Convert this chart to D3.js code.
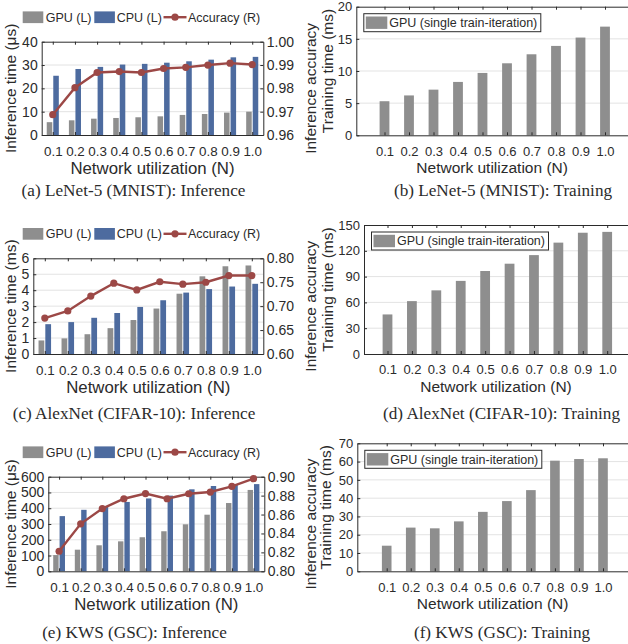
<!DOCTYPE html>
<html>
<head>
<meta charset="utf-8">
<script src="https://cdn.jsdelivr.net/npm/d3@7"></script>
<style>
  body { margin: 0; background: #fff; }
  svg { display: block; }
</style>
</head>
<body>
<svg id="fig" width="628" height="644"></svg>
<script>
// Network utilization levels shared by every panel
const categories = ["0.1", "0.2", "0.3", "0.4", "0.5", "0.6", "0.7", "0.8", "0.9", "1.0"];

// LeNet-5 (MNIST)
const lenetGpuInfer = [5.5, 6.3, 7.0, 7.3, 7.6, 8.0, 8.6, 9.0, 9.6, 10.0];      // µs
const lenetCpuInfer = [25.4, 28.3, 29.2, 30.2, 30.5, 31.0, 31.6, 32.3, 33.3, 33.5]; // µs
const lenetAccuracy = [0.9687, 0.9803, 0.9868, 0.9872, 0.9868, 0.9885, 0.9890, 0.9900, 0.9908, 0.9902];
const lenetTrain = [5.3, 6.2, 7.1, 8.3, 9.7, 11.2, 12.6, 13.9, 15.2, 16.9];       // ms

// AlexNet (CIFAR-10)
const alexGpuInfer = [0.85, 0.98, 1.24, 1.62, 2.13, 2.85, 3.78, 4.87, 5.50, 5.55]; // ms
const alexCpuInfer = [1.87, 2.00, 2.27, 2.57, 2.95, 3.37, 3.85, 4.07, 4.23, 4.40]; // ms
const alexAccuracy = [0.675, 0.690, 0.721, 0.748, 0.734, 0.751, 0.746, 0.750, 0.764, 0.764];
const alexTrain = [46, 61.5, 74, 85, 96.5, 105, 115, 129.5, 141, 142];              // ms

// KWS (GSC)
const kwsGpuInfer = [103, 137, 165, 190, 216, 254, 298, 359, 433, 516];  // µs
const kwsCpuInfer = [350, 390, 410, 440, 462, 480, 520, 541, 548, 553];  // µs
const kwsAccuracy = [0.8212, 0.8502, 0.8663, 0.8767, 0.8822, 0.8767, 0.8820, 0.8838, 0.8898, 0.8979];
const kwsTrain = [14.0, 23.9, 23.5, 27.3, 32.5, 38.4, 44.4, 60.5, 61.4, 61.8];   // ms

// Axis tick values
const lenetTimeTicks = [0, 10, 20, 30, 40];
const lenetAccTicks = [0.96, 0.97, 0.98, 0.99, 1.00];
const lenetTrainTicks = [0, 5, 10, 15, 20];
const alexTimeTicks = [0, 1, 2, 3, 4, 5, 6];
const alexAccTicks = [0.60, 0.65, 0.70, 0.75, 0.80];
const alexTrainTicks = [0, 30, 60, 90, 120, 150];
const kwsTimeTicks = [0, 100, 200, 300, 400, 500, 600];
const kwsAccTicks = [0.80, 0.82, 0.84, 0.86, 0.88, 0.90];
const kwsTrainTicks = [0, 10, 20, 30, 40, 50, 60, 70];

// Styling
const INK = "#2b2b2b";
const GRID = "#e3e3e3";
const GPU_GRAY = "#8e8e8e";
const CPU_BLUE = "#4d6b9f";
const ACC_RED = "#9c4846";
const SANS = "'Liberation Sans', Arial, Helvetica, sans-serif";
const SERIF = "'Liberation Serif', 'Times New Roman', serif";

const svg = d3.select("#fig");

function styleAxis(sel, fontSize) {
  sel.attr("font-size", null).attr("font-family", null);
  sel.select(".domain").attr("stroke", INK).attr("stroke-width", 1);
  sel.selectAll(".tick line").attr("stroke", INK);
  sel.selectAll(".tick text")
    .attr("fill", INK)
    .style("font-family", SANS)
    .style("font-size", fontSize + "px");
}

function vTitle(g, text, x, y, size) {
  g.append("text")
    .attr("transform", `translate(${x},${y}) rotate(-90)`)
    .attr("text-anchor", "middle")
    .attr("dy", "0.35em")
    .style("font-family", SANS)
    .style("font-size", size + "px")
    .attr("fill", INK)
    .text(text);
}

function hText(g, text, x, y, size, family, anchor) {
  g.append("text")
    .attr("x", x).attr("y", y)
    .attr("dy", "0.35em")
    .attr("text-anchor", anchor || "middle")
    .style("font-family", family || SANS)
    .style("font-size", size + "px")
    .attr("fill", INK)
    .text(text);
}

// Grouped GPU/CPU bars on the left axis, accuracy line on the right axis
function drawInference(p) {
  const g = svg.append("g");
  const x = d3.scalePoint().domain(categories).range([p.L, p.R]).padding(0.5);
  const step = x.step();
  const yT = d3.scaleLinear().domain([p.timeTicks[0], p.timeTicks[p.timeTicks.length - 1]]).range([p.B, p.T]);
  const yA = d3.scaleLinear().domain([p.accTicks[0], p.accTicks[p.accTicks.length - 1]]).range([p.B, p.T]);

  g.append("g").selectAll("line").data(p.timeTicks.slice(1, -1)).join("line")
    .attr("x1", p.L).attr("x2", p.R)
    .attr("y1", d => yT(d)).attr("y2", d => yT(d))
    .attr("stroke", GRID);

  const bw = step * 0.25, gap = step * 0.045;
  g.append("g").selectAll("rect").data(p.gpu).join("rect")
    .attr("x", (d, i) => x(categories[i]) - gap / 2 - bw)
    .attr("width", bw)
    .attr("y", d => yT(d))
    .attr("height", d => yT(0) - yT(d))
    .attr("fill", GPU_GRAY);
  g.append("g").selectAll("rect").data(p.cpu).join("rect")
    .attr("x", (d, i) => x(categories[i]) + gap / 2)
    .attr("width", bw)
    .attr("y", d => yT(d))
    .attr("height", d => yT(0) - yT(d))
    .attr("fill", CPU_BLUE);

  g.append("g").attr("transform", `translate(0,${p.B})`)
    .call(d3.axisBottom(x).tickSizeInner(-3).tickSizeOuter(0).tickPadding(11))
    .call(s => styleAxis(s, 13.4));
  g.append("g").attr("transform", `translate(0,${p.T})`)
    .call(d3.axisTop(x).tickSizeInner(-3).tickSizeOuter(0).tickFormat(() => ""))
    .call(s => styleAxis(s, 14));
  g.append("g").attr("transform", `translate(${p.L},0)`)
    .call(d3.axisLeft(yT).tickValues(p.timeTicks).tickSizeInner(-3).tickSizeOuter(0).tickPadding(4).tickFormat(d3.format("d")))
    .call(s => styleAxis(s, 14));
  g.append("g").attr("transform", `translate(${p.R},0)`)
    .call(d3.axisRight(yA).tickValues(p.accTicks).tickSizeInner(-3).tickSizeOuter(0).tickPadding(3.5).tickFormat(d3.format(".2f")))
    .call(s => styleAxis(s, 14));

  const line = d3.line().x((d, i) => x(categories[i])).y(d => yA(d));
  g.append("path").datum(p.acc)
    .attr("d", line).attr("fill", "none")
    .attr("stroke", ACC_RED).attr("stroke-width", 2.4);
  g.append("g").selectAll("circle").data(p.acc).join("circle")
    .attr("cx", (d, i) => x(categories[i])).attr("cy", d => yA(d))
    .attr("r", 3.6).attr("fill", ACC_RED);

  vTitle(g, p.leftTitle, 10.5, (p.T + p.B) / 2, 15.5);
  vTitle(g, "Inference accuracy", 311, (p.T + p.B) / 2, 15.5);
  hText(g, "Network utilization (N)", (p.L + p.R) / 2, p.B + 33, 16.8);

  // legend row above the axes
  const ly = p.T - 24.5;
  const lg = g.append("g");
  lg.append("rect").attr("x", 22.7).attr("y", ly - 5.8).attr("width", 20.6).attr("height", 11.7).attr("fill", GPU_GRAY);
  hText(lg, "GPU (L)", 45.7, ly, 12.5, SANS, "start");
  lg.append("rect").attr("x", 94.3).attr("y", ly - 5.8).attr("width", 20.6).attr("height", 11.7).attr("fill", CPU_BLUE);
  hText(lg, "CPU (L)", 116.7, ly, 12.5, SANS, "start");
  lg.append("line").attr("x1", 163.5).attr("x2", 186.5).attr("y1", ly).attr("y2", ly)
    .attr("stroke", ACC_RED).attr("stroke-width", 2.4);
  lg.append("circle").attr("cx", 175).attr("cy", ly).attr("r", 3.6).attr("fill", ACC_RED);
  hText(lg, "Accuracy (R)", 188, ly, 12.5, SANS, "start");
}

// Single GPU bar series for one training iteration
function drawTraining(p) {
  const g = svg.append("g");
  const idx = d3.scaleLinear().domain([0, categories.length - 1]).range([p.c0, p.c9]);
  const x = d3.scaleLinear().domain([idx.invert(p.L), idx.invert(p.R)]).range([p.L, p.R]);
  const step = x(1) - x(0);
  const y = d3.scaleLinear().domain([p.ticks[0], p.ticks[p.ticks.length - 1]]).range([p.B, p.T]);

  g.append("g").selectAll("line").data(p.ticks.slice(1, -1)).join("line")
    .attr("x1", p.L).attr("x2", p.R)
    .attr("y1", d => y(d)).attr("y2", d => y(d))
    .attr("stroke", GRID);

  const bw = step * 0.4;
  g.append("g").selectAll("rect").data(p.values).join("rect")
    .attr("x", (d, i) => x(i) - bw / 2)
    .attr("width", bw)
    .attr("y", d => y(d))
    .attr("height", d => y(0) - y(d))
    .attr("fill", GPU_GRAY);

  const tickIdx = d3.range(categories.length);
  g.append("g").attr("transform", `translate(0,${p.B})`)
    .call(d3.axisBottom(x).tickValues(tickIdx).tickFormat(i => categories[i]).tickSizeInner(-3).tickSizeOuter(0).tickPadding(11))
    .call(s => styleAxis(s, 13));
  g.append("g").attr("transform", `translate(0,${p.T})`)
    .call(d3.axisTop(x).tickValues(tickIdx).tickFormat(() => "").tickSizeInner(-3).tickSizeOuter(0))
    .call(s => styleAxis(s, 13));
  g.append("g").attr("transform", `translate(${p.L},0)`)
    .call(d3.axisLeft(y).tickValues(p.ticks).tickSizeInner(-3).tickSizeOuter(0).tickPadding(4).tickFormat(d3.format("d")))
    .call(s => styleAxis(s, 13));

  vTitle(g, "Training time (ms)", p.titleX, (p.T + p.B) / 2, 15.5);
  hText(g, "Network utilization (N)", (p.L + p.R) / 2, p.B + 32.5, 15.5);

  const bx = p.L + 7.5, by = p.T + 7;
  g.append("rect").attr("x", bx).attr("y", by).attr("width", 177).attr("height", 18)
    .attr("fill", "#fff").attr("stroke", INK).attr("stroke-width", 1);
  g.append("rect").attr("x", bx + 2).attr("y", by + 2.8).attr("width", 21.5).attr("height", 12.4).attr("fill", GPU_GRAY);
  hText(g, "GPU (single train-iteration)", bx + 25.5, by + 9, 12.5, SANS, "start");
}

drawInference({ L: 41.7, R: 263.3, T: 41.7, B: 135, gpu: lenetGpuInfer, cpu: lenetCpuInfer, acc: lenetAccuracy,
  timeTicks: lenetTimeTicks, accTicks: lenetAccTicks, leftTitle: "Inference time (\u03BCs)" });
drawInference({ L: 33.3, R: 263.3, T: 258.3, B: 354, gpu: alexGpuInfer, cpu: alexCpuInfer, acc: alexAccuracy,
  timeTicks: alexTimeTicks, accTicks: alexAccTicks, leftTitle: "Inference time (ms)" });
drawInference({ L: 48.3, R: 264.3, T: 476.7, B: 571.3, gpu: kwsGpuInfer, cpu: kwsCpuInfer, acc: kwsAccuracy,
  timeTicks: kwsTimeTicks, accTicks: kwsAccTicks, leftTitle: "Inference time (\u03BCs)" });

drawTraining({ L: 356.3, R: 628, T: 6.7, B: 135.3, c0: 384.5, c9: 605, values: lenetTrain, ticks: lenetTrainTicks, titleX: 327.5 });
drawTraining({ L: 364, R: 628, T: 225, B: 354, c0: 387.5, c9: 607.2, values: alexTrain, ticks: alexTrainTicks, titleX: 327.3 });
drawTraining({ L: 357.3, R: 628, T: 443.3, B: 571.3, c0: 386.7, c9: 603, values: kwsTrain, ticks: kwsTrainTicks, titleX: 325.7 });

// Sub-figure captions
const cap = svg.append("g");
hText(cap, "(a) LeNet-5 (MNIST): Inference", 133.5, 189.5, 17.2, SERIF);
hText(cap, "(b) LeNet-5 (MNIST): Training", 503, 189.5, 17.2, SERIF);
hText(cap, "(c) AlexNet (CIFAR-10): Inference", 134, 413, 17.2, SERIF);
hText(cap, "(d) AlexNet (CIFAR-10): Training", 501.5, 413, 17.2, SERIF);
hText(cap, "(e) KWS (GSC): Inference", 134.5, 632, 17.2, SERIF);
hText(cap, "(f) KWS (GSC): Training", 502, 632, 17.2, SERIF);
</script>
</body>
</html>
